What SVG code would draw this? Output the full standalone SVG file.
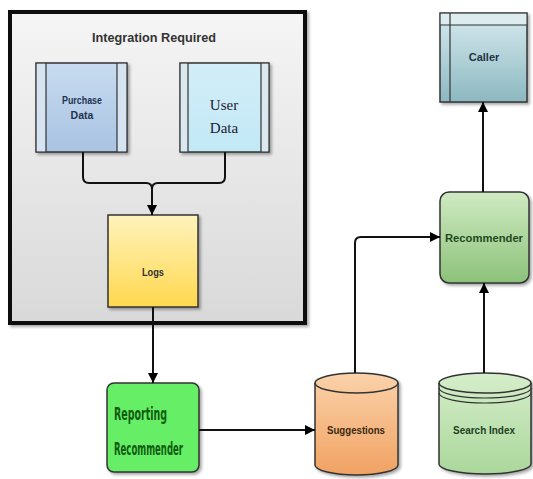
<svg xmlns="http://www.w3.org/2000/svg" width="533" height="479" viewBox="0 0 533 479">
<defs>
<linearGradient id="gCont" x1="0" y1="0" x2="0" y2="1"><stop offset="0" stop-color="#f5f5f5"/><stop offset="1" stop-color="#d9d9d9"/></linearGradient>
<linearGradient id="gPurch" x1="0" y1="0" x2="0" y2="1"><stop offset="0" stop-color="#c8dbf0"/><stop offset="1" stop-color="#a9c3e2"/></linearGradient>
<linearGradient id="gUser" x1="0" y1="0" x2="0" y2="1"><stop offset="0" stop-color="#d2eef8"/><stop offset="1" stop-color="#c2e8f6"/></linearGradient>
<linearGradient id="gLogs" x1="0" y1="0" x2="0" y2="1"><stop offset="0" stop-color="#fff3bd"/><stop offset="1" stop-color="#ffd84e"/></linearGradient>
<linearGradient id="gSugg" x1="0" y1="0" x2="0" y2="1"><stop offset="0" stop-color="#fbd2aa"/><stop offset="1" stop-color="#f0a262"/></linearGradient>
<linearGradient id="gSearch" x1="0" y1="0" x2="0" y2="1"><stop offset="0" stop-color="#d6eecb"/><stop offset="1" stop-color="#aad79b"/></linearGradient>
<linearGradient id="gRec" x1="0" y1="0" x2="0" y2="1"><stop offset="0" stop-color="#d0eac2"/><stop offset="1" stop-color="#8cc27a"/></linearGradient>
<linearGradient id="gCaller" x1="0" y1="0" x2="0" y2="1"><stop offset="0" stop-color="#d6eaee"/><stop offset="1" stop-color="#8cb8c1"/></linearGradient>
<marker id="arr" viewBox="0 0 10 10" refX="10" refY="5" markerWidth="10" markerHeight="10" markerUnits="userSpaceOnUse" orient="auto">
<path d="M0,0 L10,5 L0,10 z" fill="#000"/>
</marker>
<filter id="sh" x="-10%" y="-10%" width="130%" height="130%">
<feDropShadow dx="2" dy="2" stdDeviation="1.5" flood-color="#000" flood-opacity="0.35"/>
</filter>
</defs>
<style>
.t{font-family:"Liberation Sans",Arial,sans-serif;text-anchor:middle;font-weight:bold;}
.box{stroke:#333;stroke-width:1.5;}
.conn{fill:none;stroke:#111;stroke-width:2;}
.rr{font-family:"DejaVu Sans Condensed","Liberation Sans",sans-serif;font-weight:bold;font-size:18px;fill:#0f5c0f;}
</style>
<rect width="533" height="479" fill="#fff"/>

<g id="integration-required">
<rect x="10" y="12" width="295" height="311" fill="url(#gCont)" stroke="#111" stroke-width="4" filter="url(#sh)"/>
<text class="t" x="154" y="42" font-size="13" fill="#333" textLength="124" lengthAdjust="spacingAndGlyphs">Integration Required</text>
</g>

<g id="purchase-data">
<rect class="box" x="36" y="63" width="91" height="89" fill="url(#gPurch)" filter="url(#sh)"/>
<rect x="36.8" y="63.8" width="9" height="87.5" fill="#d6e3f1"/>
<rect x="117" y="63.8" width="9.2" height="87.5" fill="#d6e3f1"/>
<line x1="46" y1="63" x2="46" y2="152" stroke="#333" stroke-width="1.2"/>
<line x1="117" y1="63" x2="117" y2="152" stroke="#333" stroke-width="1.2"/>
<text class="t" x="82" y="104" font-size="10.5" fill="#223350" textLength="40" lengthAdjust="spacingAndGlyphs">Purchase</text>
<text class="t" x="82" y="119" font-size="10.5" fill="#223350">Data</text>
</g>

<g id="user-data">
<rect class="box" x="180" y="63" width="89" height="89" fill="url(#gUser)" filter="url(#sh)"/>
<rect x="180.8" y="63.8" width="7.5" height="87.5" fill="#dbe8f0"/>
<rect x="261" y="63.8" width="7.2" height="87.5" fill="#dbe8f0"/>
<line x1="188" y1="63" x2="188" y2="152" stroke="#333" stroke-width="1.2"/>
<line x1="261" y1="63" x2="261" y2="152" stroke="#333" stroke-width="1.2"/>
<text x="224" y="110" font-family="'Liberation Serif','Times New Roman',serif" font-size="15" fill="#223" text-anchor="middle">User</text>
<text x="224" y="133" font-family="'Liberation Serif','Times New Roman',serif" font-size="15" fill="#223" text-anchor="middle">Data</text>
</g>

<g id="logs">
<rect class="box" x="108" y="215" width="90" height="92" fill="url(#gLogs)" filter="url(#sh)"/>
<text class="t" x="153" y="276" font-size="11" fill="#333" textLength="22" lengthAdjust="spacingAndGlyphs">Logs</text>
</g>

<g id="reporting-recommender">
<rect class="box" x="107" y="383" width="92" height="89" rx="7" fill="#66ee66" filter="url(#sh)"/>
<text class="rr" x="114" y="420" textLength="53" lengthAdjust="spacingAndGlyphs">Reporting</text>
<text class="rr" x="114" y="455" textLength="69" lengthAdjust="spacingAndGlyphs">Recommender</text>
</g>

<g id="suggestions">
<path class="box" d="M315,383 A41.5,10 0 0 1 398,383 L398,465 A41.5,10 0 0 1 315,465 Z" fill="url(#gSugg)" filter="url(#sh)"/>
<path d="M315,383 A41.5,10 0 0 0 398,383" fill="none" stroke="#333" stroke-width="1.5"/>
<text class="t" x="356" y="434" font-size="11" fill="#3a2810" textLength="58" lengthAdjust="spacingAndGlyphs">Suggestions</text>
</g>

<g id="search-index">
<path class="box" d="M439,383 A46,10 0 0 1 531,383 L531,464 A46,10 0 0 1 439,464 Z" fill="url(#gSearch)" filter="url(#sh)"/>
<path d="M439,383 A46,10 0 0 0 531,383" fill="none" stroke="#333" stroke-width="1.5"/>
<path d="M439,388 A46,10 0 0 0 531,388" fill="none" stroke="#333" stroke-width="1.2"/>
<path d="M439,393 A46,10 0 0 0 531,393" fill="none" stroke="#333" stroke-width="1.2"/>
<text class="t" x="484" y="434" font-size="11" fill="#223f22" textLength="62" lengthAdjust="spacingAndGlyphs">Search Index</text>
</g>

<g id="recommender">
<rect class="box" x="440" y="192" width="89" height="91" rx="9" fill="url(#gRec)" filter="url(#sh)"/>
<text class="t" x="484" y="242" font-size="11" fill="#1e4a1e" textLength="78" lengthAdjust="spacingAndGlyphs">Recommender</text>
</g>

<g id="caller">
<rect class="box" x="440" y="13" width="87" height="89" fill="url(#gCaller)" filter="url(#sh)"/>
<rect x="440.8" y="13.8" width="85.5" height="11" fill="#dcecef"/>
<line x1="440" y1="25" x2="527" y2="25" stroke="#333" stroke-width="1.2"/>
<line x1="450" y1="13" x2="450" y2="102" stroke="#333" stroke-width="1.2"/>
<text class="t" x="484" y="61" font-size="11" fill="#223344">Caller</text>
</g>

<g id="connectors">
<path class="conn" d="M83,152 L83,177 Q83,183 89,183 L146,183 Q152,183 152,189 L152,215" marker-end="url(#arr)"/>
<path class="conn" d="M225,152 L225,177 Q225,183 219,183 L158,183 Q152,183 152,189"/>
<path class="conn" d="M153,307 L153,383" marker-end="url(#arr)"/>
<path class="conn" d="M199,430 L315,430" marker-end="url(#arr)"/>
<path class="conn" d="M355,373 L355,243 Q355,237 361,237 L440,237" marker-end="url(#arr)"/>
<path class="conn" d="M484,373 L484,283" marker-end="url(#arr)"/>
<path class="conn" d="M483,192 L483,102" marker-end="url(#arr)"/>
</g>
</svg>
